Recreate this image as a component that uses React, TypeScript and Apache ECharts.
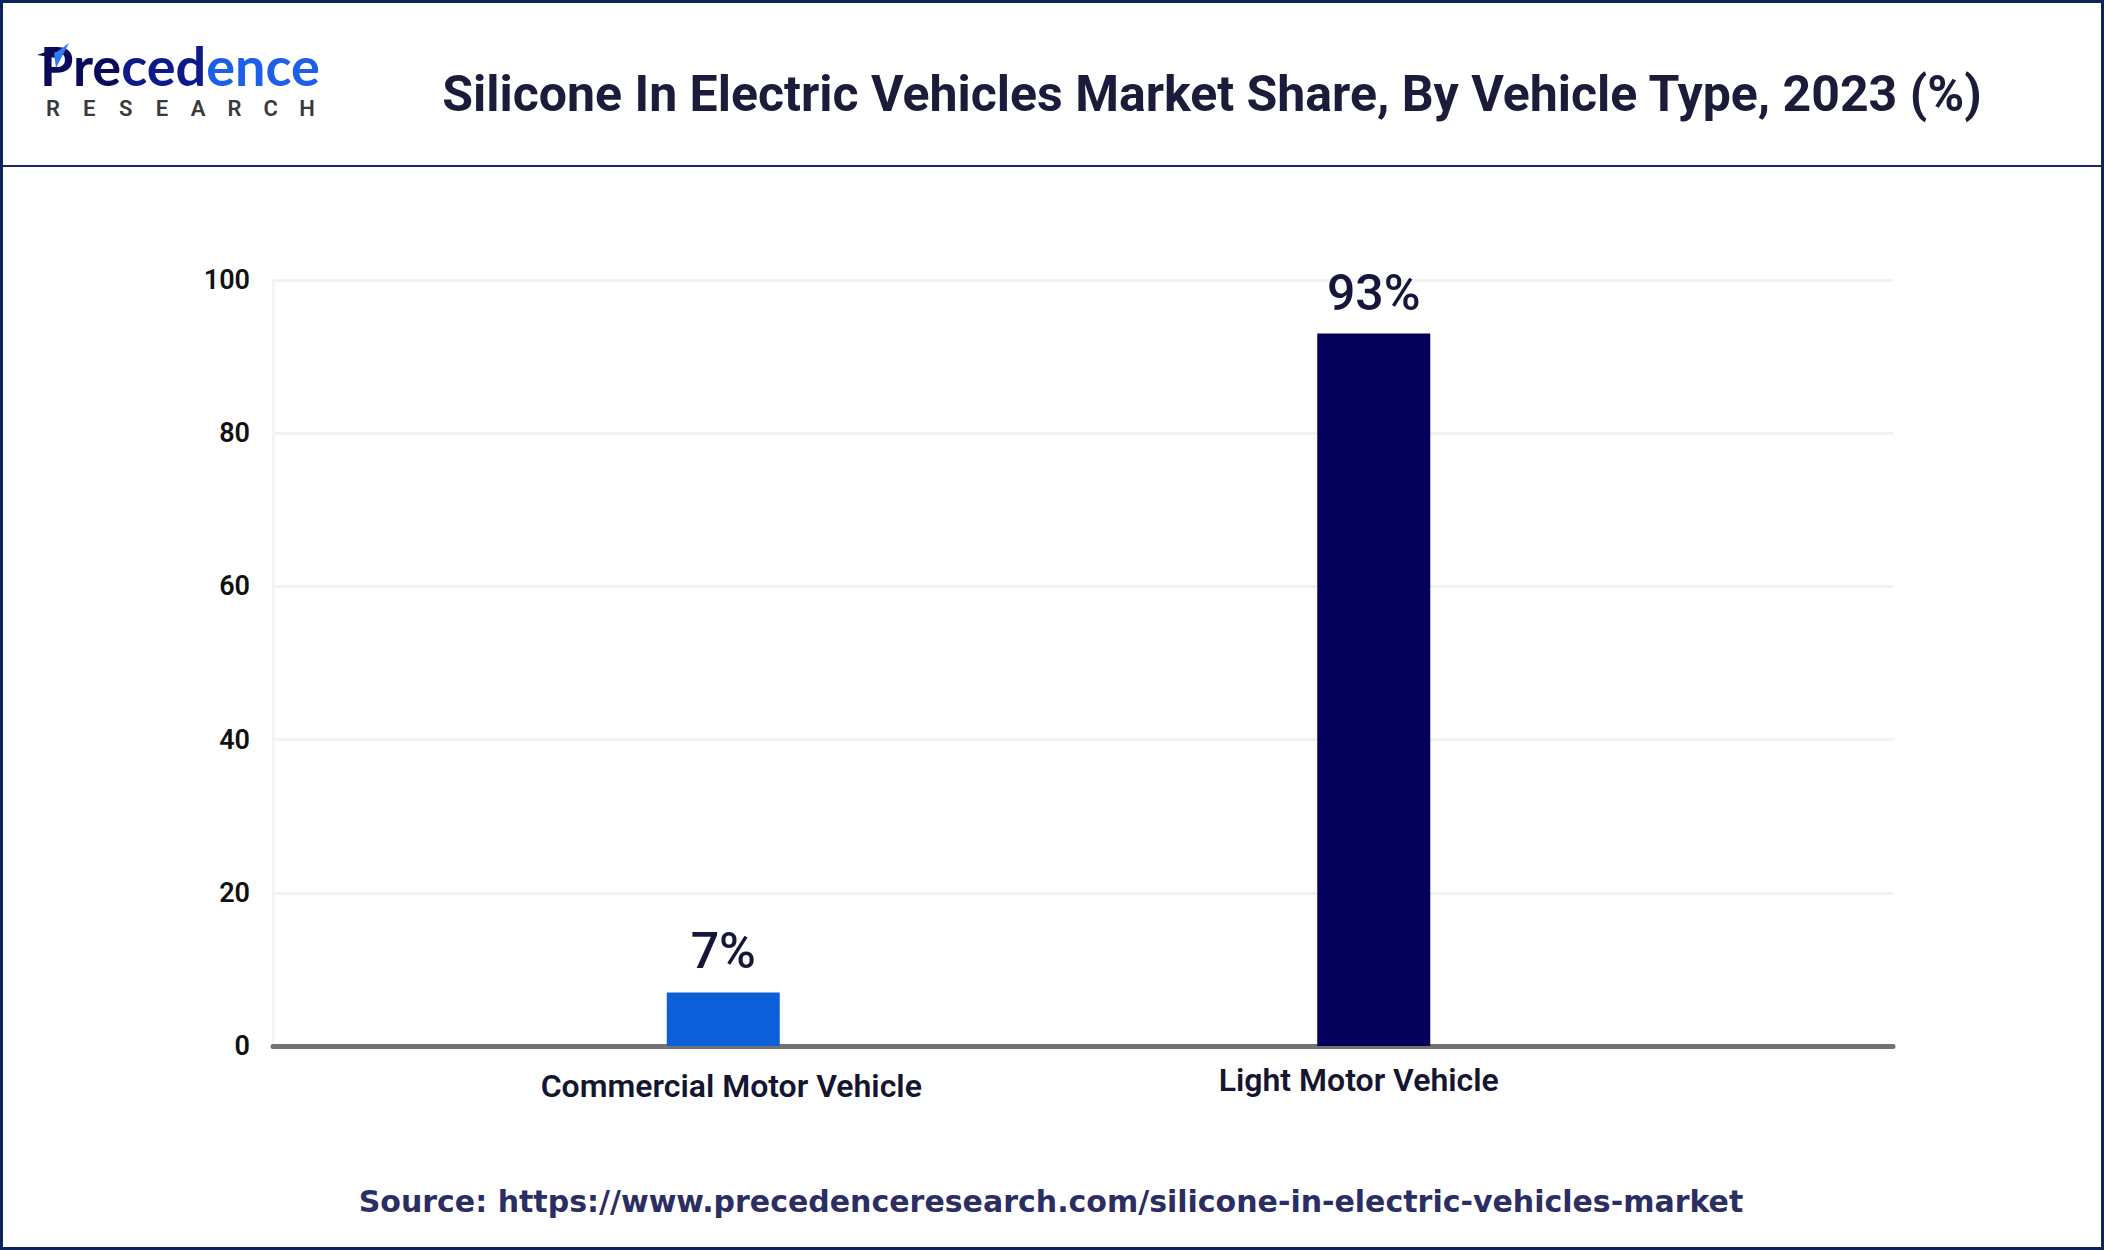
import React, { useEffect, useRef } from "react";
import * as echarts from "echarts";

const categories = ["Commercial Motor Vehicle", "Light Motor Vehicle"];
const shares = [7, 93];
const barColors = ["#0b5fd8", "#03005a"];
const yMin = 0;
const yMax = 100;
const yStep = 20;
const titleText = "Silicone In Electric Vehicles Market Share, By Vehicle Type, 2023 (%)";
const sourceText = "Source: https://www.precedenceresearch.com/silicone-in-electric-vehicles-market";
const logoParts = ["Pre", "ced", "ence"];
const logoSub = ["R", "E", "S", "E", "A", "R", "C", "H"];

export default function App() {
  const ref = useRef<HTMLDivElement>(null);
  useEffect(() => {
    if (!ref.current) return;
    const chart = echarts.init(ref.current, null, { renderer: "svg" });
    const subLetters = logoSub.map((ch, i) => ({
      type: "text",
      x: 53 + i * 36.3,
      y: 108,
      style: {
        text: ch,
        fontSize: 22,
        lineHeight: 20,
        fontWeight: 600,
        fontFamily: "Roboto, sans-serif",
        fill: "#3a3a3a",
        align: "center",
        verticalAlign: "middle",
      },
    }));
    const logoFont = { fontSize: 54, fontWeight: 700, fontFamily: "Lato, sans-serif", lineHeight: 44 };
    const labelStyle = {
      fontSize: 32,
      fontWeight: 600,
      fontFamily: "Roboto, sans-serif",
      color: "#151530",
    };
    chart.setOption({
      animation: false,
      backgroundColor: "#ffffff",
      graphic: [
        {
          type: "rect",
          shape: { x: 1.5, y: 1.5, width: 2101, height: 1247 },
          style: { fill: "none", stroke: "#0d2556", lineWidth: 3 },
          z: 100,
        },
        {
          type: "line",
          shape: { x1: 0, y1: 166, x2: 2104, y2: 166 },
          style: { stroke: "#1e2a55", lineWidth: 2 },
        },
        {
          type: "text",
          x: 1212,
          y: 94,
          style: {
            text: titleText,
            fontSize: 50,
            fontWeight: 700,
            fontFamily: "Roboto, sans-serif",
            fill: "#1b1b3a",
            align: "center",
            verticalAlign: "middle",
          },
        },
        {
          type: "text",
          x: 40,
          y: 65,
          style: {
            text: `{a|${logoParts[0]}}{b|${logoParts[1]}}{c|${logoParts[2]}}`,
            align: "left",
            verticalAlign: "middle",
            lineHeight: 44,
            rich: {
              a: { ...logoFont, fill: "#0a0a5a", color: "#0a0a5a" },
              b: { ...logoFont, fill: "#0e1a8c", color: "#0e1a8c" },
              c: { ...logoFont, fill: "#1d5fe6", color: "#1d5fe6" },
            },
          },
        },
        {
          type: "polygon",
          shape: { points: [[37, 55], [54, 49], [56, 58]] },
          style: { fill: "#0a0a5a" },
        },
        {
          type: "polygon",
          shape: { points: [[69, 43], [56, 68], [54, 54]] },
          style: { fill: "#2f7bf5" },
        },
        ...subLetters,
        {
          type: "text",
          x: 1051,
          y: 1201,
          style: {
            text: sourceText,
            fontSize: 30,
            fontWeight: 700,
            fontFamily: "'DejaVu Sans', sans-serif",
            fill: "#2b2d63",
            align: "center",
            verticalAlign: "middle",
          },
        },
      ],
      grid: [
        { left: 273, right: 211, top: 280, bottom: 204 },
        { left: 398, right: 405, top: 280, bottom: 204 },
      ],
      xAxis: [
        {
          type: "category",
          gridIndex: 0,
          data: [""],
          axisLine: { show: true, lineStyle: { color: "#727272", width: 5 } },
          axisTick: { show: false },
          axisLabel: { show: false },
        },
        {
          type: "category",
          gridIndex: 1,
          data: categories,
          axisLine: { show: false },
          axisTick: { show: false },
          axisLabel: {
            margin: 18,
            formatter: (v: string, i: number) => (i === 0 ? `{a|${v}}` : `{b|${v}}`),
            rich: {
              a: { ...labelStyle, padding: [6, 0, 0, 16] },
              b: { ...labelStyle, padding: [0, 30, 0, 0] },
            },
          },
        },
      ],
      yAxis: [
        {
          type: "value",
          gridIndex: 0,
          min: yMin,
          max: yMax,
          interval: yStep,
          axisLine: { show: true, lineStyle: { color: "#f4f4f4", width: 3 } },
          axisTick: { show: false },
          splitLine: { show: true, lineStyle: { color: "#f2f2f2", width: 3 } },
          axisLabel: {
            margin: 23,
            fontSize: 27,
            fontWeight: 600,
            fontFamily: "Roboto, sans-serif",
            color: "#111111",
          },
        },
        {
          type: "value",
          gridIndex: 1,
          min: yMin,
          max: yMax,
          interval: yStep,
          show: false,
          splitLine: { show: false },
        },
      ],
      series: [
        {
          type: "bar",
          xAxisIndex: 1,
          yAxisIndex: 1,
          barWidth: 113,
          data: shares.map((v, i) => ({ value: v, itemStyle: { color: barColors[i] } })),
          label: {
            show: true,
            position: "top",
            distance: 16,
            formatter: "{c}%",
            fontSize: 50,
            fontWeight: 500,
            fontFamily: "Roboto, sans-serif",
            color: "#16163a",
          },
          z: 1,
        },
      ],
    });
    return () => chart.dispose();
  }, []);
  return (
    <div
      ref={ref}
      style={{ position: "fixed", left: 0, top: 0, width: 2104, height: 1250 }}
    />
  );
}
